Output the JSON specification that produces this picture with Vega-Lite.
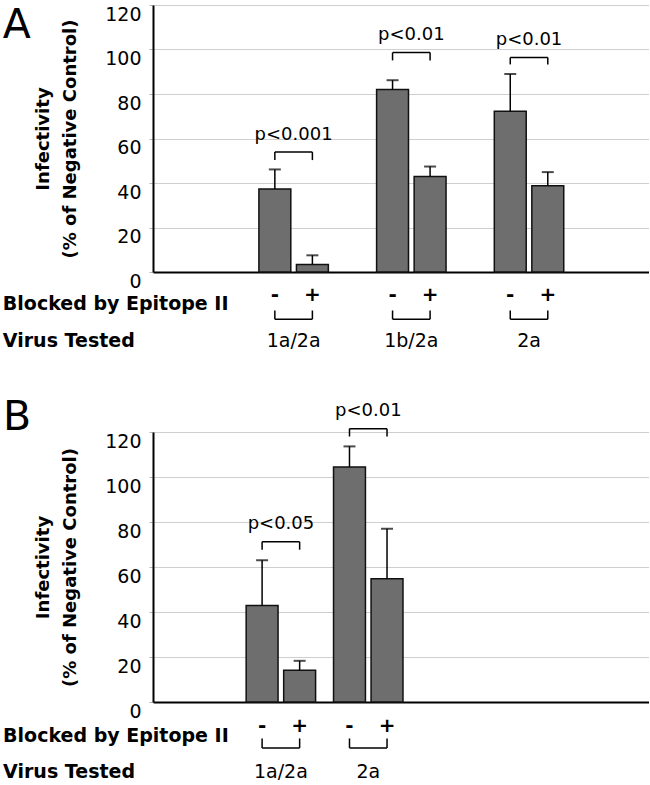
{
  "$schema": "https://vega.github.io/schema/vega-lite/v6.json",
  "background": "white",
  "padding": {"left": 2, "top": 4, "right": 0, "bottom": 0},
  "spacing": 46,
  "config": {
    "font": "DejaVu Sans",
    "view": {"stroke": null},
    "text": {"color": "black"},
    "axisX": {
      "labels": false,
      "ticks": false,
      "grid": false,
      "domain": true,
      "domainColor": "black",
      "domainWidth": 2
    },
    "axisY": {
      "values": [0, 20, 40, 60, 80, 100, 120],
      "labelFontSize": 19,
      "labelColor": "black",
      "labelPadding": 8,
      "labelBaseline": "top",
      "tickSize": 4,
      "tickColor": "#b5b5b5",
      "grid": true,
      "gridColor": "#cfcfcf",
      "gridWidth": 1,
      "domainColor": "black",
      "domainWidth": 2,
      "titleFontSize": 18,
      "titleFontWeight": "bold",
      "titleColor": "black",
      "titleLineHeight": 27,
      "titlePadding": 25
    }
  },
  "datasets": {
    "barsA": [
      {"virus": "1a/2a", "blocked": "-", "value": 37.3, "err": 46.1},
      {"virus": "1a/2a", "blocked": "+", "value": 3.4, "err": 7.5},
      {"virus": "1b/2a", "blocked": "-", "value": 82.0, "err": 86.2},
      {"virus": "1b/2a", "blocked": "+", "value": 42.9, "err": 47.4},
      {"virus": "2a", "blocked": "-", "value": 72.3, "err": 89.0},
      {"virus": "2a", "blocked": "+", "value": 38.8, "err": 44.9}
    ],
    "sigA": [
      {"virus": "1a/2a", "label": "p<0.001", "top": 53.9, "leg": 50.3},
      {"virus": "1b/2a", "label": "p<0.01", "top": 98.6, "leg": 95.1},
      {"virus": "2a", "label": "p<0.01", "top": 96.4, "leg": 93.3}
    ],
    "barsB": [
      {"virus": "1a/2a", "blocked": "-", "value": 42.9, "err": 63.0},
      {"virus": "1a/2a", "blocked": "+", "value": 14.1, "err": 18.3},
      {"virus": "2a", "blocked": "-", "value": 104.4, "err": 113.6},
      {"virus": "2a", "blocked": "+", "value": 54.8, "err": 77.0}
    ],
    "sigB": [
      {"virus": "1a/2a", "label": "p<0.05", "top": 71.2, "leg": 67.7},
      {"virus": "2a", "label": "p<0.01", "top": 121.5, "leg": 118.0}
    ],
    "headBlocked": [{"header": "Blocked by Epitope II"}],
    "headVirus": [{"header": "Virus Tested"}]
  },
  "vconcat": [
    {
      "width": 496,
      "height": 267,
      "title": {"text": "A", "anchor": "start", "frame": "bounds", "fontSize": 41, "fontWeight": "normal", "baseline": "top", "offset": -42, "color": "black"},
      "layer": [
        {
          "data": {"name": "barsA"},
          "mark": {"type": "bar", "fill": "#6e6e6e", "stroke": "#111111", "strokeWidth": 1.5},
          "encoding": {
            "x": {"field": "virus", "type": "nominal", "title": null, "scale": {"type": "band", "domain": ["1a/2a", "1b/2a", "2a"], "paddingInner": 0.41, "paddingOuter": 0.812, "align": 0.554}},
            "xOffset": {"field": "blocked", "type": "nominal", "scale": {"domain": ["-", "+"], "paddingInner": 0.15, "paddingOuter": 0}},
            "y": {"field": "value", "type": "quantitative", "title": ["Infectivity", "(% of Negative Control)"], "scale": {"domain": [0, 120], "nice": false}}
          }
        },
        {
          "data": {"name": "barsA"},
          "mark": {"type": "rule", "color": "black", "strokeWidth": 1.5},
          "encoding": {
            "x": {"field": "virus", "type": "nominal", "title": null},
            "xOffset": {"field": "blocked", "type": "nominal"},
            "y": {"field": "value", "type": "quantitative", "title": ["Infectivity", "(% of Negative Control)"]},
            "y2": {"field": "err"}
          }
        },
        {
          "data": {"name": "barsA"},
          "mark": {"type": "tick", "color": "black", "size": 12, "thickness": 2, "orient": "horizontal"},
          "encoding": {
            "x": {"field": "virus", "type": "nominal", "title": null},
            "xOffset": {"field": "blocked", "type": "nominal"},
            "y": {"field": "err", "type": "quantitative", "title": ["Infectivity", "(% of Negative Control)"]}
          }
        },
        {
          "data": {"name": "barsA"},
          "transform": [{"lookup": "virus", "from": {"data": {"name": "sigA"}, "key": "virus", "fields": ["top", "leg"]}}],
          "mark": {"type": "rule", "color": "black", "strokeWidth": 1.5},
          "encoding": {
            "x": {"field": "virus", "type": "nominal", "title": null},
            "xOffset": {"field": "blocked", "type": "nominal"},
            "y": {"field": "top", "type": "quantitative", "title": ["Infectivity", "(% of Negative Control)"]},
            "y2": {"field": "leg"}
          }
        },
        {
          "data": {"name": "barsA"},
          "transform": [{"lookup": "virus", "from": {"data": {"name": "sigA"}, "key": "virus", "fields": ["top", "leg"]}}],
          "mark": {"type": "line", "color": "black", "strokeWidth": 1.5},
          "encoding": {
            "x": {"field": "virus", "type": "nominal", "title": null},
            "xOffset": {"field": "blocked", "type": "nominal"},
            "y": {"field": "top", "type": "quantitative", "title": ["Infectivity", "(% of Negative Control)"]},
            "detail": {"field": "virus"}
          }
        },
        {
          "data": {"name": "sigA"},
          "mark": {"type": "text", "fontSize": 18, "baseline": "alphabetic", "dy": -12.5, "color": "black"},
          "encoding": {
            "x": {"field": "virus", "type": "nominal", "title": null},
            "y": {"field": "top", "type": "quantitative", "title": ["Infectivity", "(% of Negative Control)"]},
            "text": {"field": "label"}
          }
        },
        {
          "data": {"name": "barsA"},
          "mark": {"type": "text", "fontSize": 20, "fontWeight": "bold", "baseline": "middle", "color": "black"},
          "encoding": {
            "x": {"field": "virus", "type": "nominal", "title": null},
            "xOffset": {"field": "blocked", "type": "nominal"},
            "y": {"datum": -10.5, "type": "quantitative", "title": ["Infectivity", "(% of Negative Control)"]},
            "text": {"field": "blocked"}
          }
        },
        {
          "data": {"name": "barsA"},
          "mark": {"type": "rule", "color": "black", "strokeWidth": 1.5},
          "encoding": {
            "x": {"field": "virus", "type": "nominal", "title": null},
            "xOffset": {"field": "blocked", "type": "nominal"},
            "y": {"datum": -17.3, "type": "quantitative", "title": ["Infectivity", "(% of Negative Control)"]},
            "y2": {"datum": -21.2}
          }
        },
        {
          "data": {"name": "barsA"},
          "mark": {"type": "line", "color": "black", "strokeWidth": 1.5},
          "encoding": {
            "x": {"field": "virus", "type": "nominal", "title": null},
            "xOffset": {"field": "blocked", "type": "nominal"},
            "y": {"datum": -21.2, "type": "quantitative", "title": ["Infectivity", "(% of Negative Control)"]},
            "detail": {"field": "virus"}
          }
        },
        {
          "data": {"name": "barsA"},
          "transform": [{"filter": "datum.blocked == '-'"}],
          "mark": {"type": "text", "fontSize": 19, "baseline": "alphabetic", "color": "black"},
          "encoding": {
            "x": {"field": "virus", "type": "nominal", "title": null},
            "y": {"datum": -33.6, "type": "quantitative", "title": ["Infectivity", "(% of Negative Control)"]},
            "text": {"field": "virus"}
          }
        },
        {
          "data": {"name": "headBlocked"},
          "mark": {"type": "text", "fontSize": 19, "fontWeight": "bold", "align": "left", "baseline": "alphabetic", "dx": -272, "color": "black"},
          "encoding": {
            "x": {"datum": "1a/2a", "type": "nominal", "title": null},
            "xOffset": {"datum": "-", "type": "nominal"},
            "y": {"datum": -17.3, "type": "quantitative", "title": ["Infectivity", "(% of Negative Control)"]},
            "text": {"field": "header"}
          }
        },
        {
          "data": {"name": "headVirus"},
          "mark": {"type": "text", "fontSize": 19, "fontWeight": "bold", "align": "left", "baseline": "alphabetic", "dx": -272, "color": "black"},
          "encoding": {
            "x": {"datum": "1a/2a", "type": "nominal", "title": null},
            "xOffset": {"datum": "-", "type": "nominal"},
            "y": {"datum": -33.6, "type": "quantitative", "title": ["Infectivity", "(% of Negative Control)"]},
            "text": {"field": "header"}
          }
        }
      ]
    },
    {
      "width": 496,
      "height": 270,
      "title": {"text": "B", "anchor": "start", "frame": "bounds", "fontSize": 41, "fontWeight": "normal", "baseline": "top", "offset": -37, "color": "black"},
      "layer": [
        {
          "data": {"name": "barsB"},
          "mark": {"type": "bar", "fill": "#6e6e6e", "stroke": "#111111", "strokeWidth": 1.5},
          "encoding": {
            "x": {"field": "virus", "type": "nominal", "title": null, "scale": {"type": "band", "domain": ["1a/2a", "2a", " ", "  "], "paddingInner": 0.204, "paddingOuter": 0.94, "align": 0.567}},
            "xOffset": {"field": "blocked", "type": "nominal", "scale": {"domain": ["-", "+"], "paddingInner": 0.15, "paddingOuter": 0}},
            "y": {"field": "value", "type": "quantitative", "title": ["Infectivity", "(% of Negative Control)"], "scale": {"domain": [0, 120], "nice": false}}
          }
        },
        {
          "data": {"name": "barsB"},
          "mark": {"type": "rule", "color": "black", "strokeWidth": 1.5},
          "encoding": {
            "x": {"field": "virus", "type": "nominal", "title": null},
            "xOffset": {"field": "blocked", "type": "nominal"},
            "y": {"field": "value", "type": "quantitative", "title": ["Infectivity", "(% of Negative Control)"]},
            "y2": {"field": "err"}
          }
        },
        {
          "data": {"name": "barsB"},
          "mark": {"type": "tick", "color": "black", "size": 12, "thickness": 2, "orient": "horizontal"},
          "encoding": {
            "x": {"field": "virus", "type": "nominal", "title": null},
            "xOffset": {"field": "blocked", "type": "nominal"},
            "y": {"field": "err", "type": "quantitative", "title": ["Infectivity", "(% of Negative Control)"]}
          }
        },
        {
          "data": {"name": "barsB"},
          "transform": [{"lookup": "virus", "from": {"data": {"name": "sigB"}, "key": "virus", "fields": ["top", "leg"]}}],
          "mark": {"type": "rule", "color": "black", "strokeWidth": 1.5},
          "encoding": {
            "x": {"field": "virus", "type": "nominal", "title": null},
            "xOffset": {"field": "blocked", "type": "nominal"},
            "y": {"field": "top", "type": "quantitative", "title": ["Infectivity", "(% of Negative Control)"]},
            "y2": {"field": "leg"}
          }
        },
        {
          "data": {"name": "barsB"},
          "transform": [{"lookup": "virus", "from": {"data": {"name": "sigB"}, "key": "virus", "fields": ["top", "leg"]}}],
          "mark": {"type": "line", "color": "black", "strokeWidth": 1.5},
          "encoding": {
            "x": {"field": "virus", "type": "nominal", "title": null},
            "xOffset": {"field": "blocked", "type": "nominal"},
            "y": {"field": "top", "type": "quantitative", "title": ["Infectivity", "(% of Negative Control)"]},
            "detail": {"field": "virus"}
          }
        },
        {
          "data": {"name": "sigB"},
          "mark": {"type": "text", "fontSize": 18, "baseline": "alphabetic", "dy": -12.5, "color": "black"},
          "encoding": {
            "x": {"field": "virus", "type": "nominal", "title": null},
            "y": {"field": "top", "type": "quantitative", "title": ["Infectivity", "(% of Negative Control)"]},
            "text": {"field": "label"}
          }
        },
        {
          "data": {"name": "barsB"},
          "mark": {"type": "text", "fontSize": 20, "fontWeight": "bold", "baseline": "middle", "color": "black"},
          "encoding": {
            "x": {"field": "virus", "type": "nominal", "title": null},
            "xOffset": {"field": "blocked", "type": "nominal"},
            "y": {"datum": -10.8, "type": "quantitative", "title": ["Infectivity", "(% of Negative Control)"]},
            "text": {"field": "blocked"}
          }
        },
        {
          "data": {"name": "barsB"},
          "mark": {"type": "rule", "color": "black", "strokeWidth": 1.5},
          "encoding": {
            "x": {"field": "virus", "type": "nominal", "title": null},
            "xOffset": {"field": "blocked", "type": "nominal"},
            "y": {"datum": -16.2, "type": "quantitative", "title": ["Infectivity", "(% of Negative Control)"]},
            "y2": {"datum": -20.4}
          }
        },
        {
          "data": {"name": "barsB"},
          "mark": {"type": "line", "color": "black", "strokeWidth": 1.5},
          "encoding": {
            "x": {"field": "virus", "type": "nominal", "title": null},
            "xOffset": {"field": "blocked", "type": "nominal"},
            "y": {"datum": -20.4, "type": "quantitative", "title": ["Infectivity", "(% of Negative Control)"]},
            "detail": {"field": "virus"}
          }
        },
        {
          "data": {"name": "barsB"},
          "transform": [{"filter": "datum.blocked == '-'"}],
          "mark": {"type": "text", "fontSize": 19, "baseline": "alphabetic", "color": "black"},
          "encoding": {
            "x": {"field": "virus", "type": "nominal", "title": null},
            "y": {"datum": -33.6, "type": "quantitative", "title": ["Infectivity", "(% of Negative Control)"]},
            "text": {"field": "virus"}
          }
        },
        {
          "data": {"name": "headBlocked"},
          "mark": {"type": "text", "fontSize": 19, "fontWeight": "bold", "align": "left", "baseline": "alphabetic", "dx": -259, "color": "black"},
          "encoding": {
            "x": {"datum": "1a/2a", "type": "nominal", "title": null},
            "xOffset": {"datum": "-", "type": "nominal"},
            "y": {"datum": -17.7, "type": "quantitative", "title": ["Infectivity", "(% of Negative Control)"]},
            "text": {"field": "header"}
          }
        },
        {
          "data": {"name": "headVirus"},
          "mark": {"type": "text", "fontSize": 19, "fontWeight": "bold", "align": "left", "baseline": "alphabetic", "dx": -259, "color": "black"},
          "encoding": {
            "x": {"datum": "1a/2a", "type": "nominal", "title": null},
            "xOffset": {"datum": "-", "type": "nominal"},
            "y": {"datum": -33.6, "type": "quantitative", "title": ["Infectivity", "(% of Negative Control)"]},
            "text": {"field": "header"}
          }
        }
      ]
    }
  ]
}
